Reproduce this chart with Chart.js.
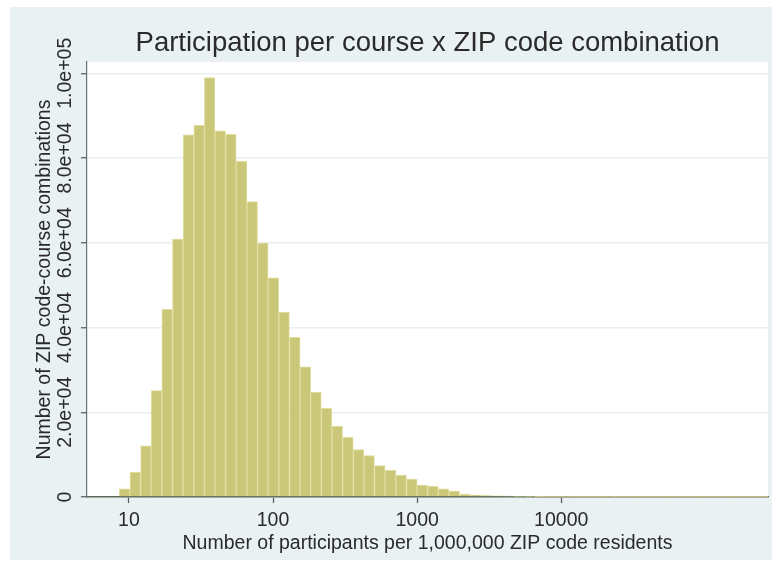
<!DOCTYPE html>
<html>
<head>
<meta charset="utf-8">
<script src="https://cdn.jsdelivr.net/npm/chart.js@4.4.0/dist/chart.umd.min.js"></script>
<style>
  html, body { margin: 0; padding: 0; background: #fff; }
</style>
</head>
<body>
<canvas id="histChart" width="777" height="569"></canvas>
<script>
// bin centres, in log10(participants per 1,000,000 residents)
const binCenters = [
  0.970, 1.044, 1.118, 1.191, 1.265, 1.339, 1.413, 1.487, 1.560, 1.634,
  1.708, 1.782, 1.856, 1.929, 2.003, 2.077, 2.151, 2.225, 2.298, 2.372,
  2.446, 2.520, 2.594, 2.667, 2.741, 2.815, 2.889, 2.963, 3.036, 3.110,
  3.184, 3.258, 3.332, 3.405, 3.479, 3.553, 3.627, 3.701, 3.774, 3.848,
  3.922, 3.996, 4.070, 4.143, 4.217, 4.291, 4.365, 4.439, 4.512, 4.586,
  4.660, 4.734, 4.808, 4.881, 4.955, 5.029, 5.103, 5.177, 5.250, 5.324,
  5.398
];
// number of ZIP code-course combinations per bin
const binCounts = [
  1900, 5800, 12100, 25100, 44300, 60900, 85500, 87700, 99000, 86400,
  85600, 79200, 69700, 59900, 51700, 43600, 37700, 30700, 24700, 20900,
  16700, 14100, 11200, 9800, 7400, 6300, 5200, 4200, 2800, 2500,
  1900, 1400, 700, 450, 350, 300, 220, 160, 120, 90,
  70, 55, 45, 35, 28, 22, 18, 14, 11, 9,
  7, 6, 5, 4, 3, 3, 2, 2, 1, 1,
  1
];
const xTickValues = [1, 2, 3, 4];
const xTickLabels = ['10', '100', '1000', '10000'];
const yTickValues = [0, 20000, 40000, 60000, 80000, 100000];
const yTickLabels = ['0', '2.0e+04', '4.0e+04', '6.0e+04', '8.0e+04', '1.0e+05'];

const chartTitle = 'Participation per course x ZIP code combination';
const FONT = '"Liberation Sans", Arial, Helvetica, sans-serif';
const TEXT = '#2a2a2a';

// background panels, title and the vertical y tick labels
const stataFrame = {
  id: 'stataFrame',
  beforeDraw(chart) {
    const ctx = chart.ctx, a = chart.chartArea;
    ctx.save();
    ctx.fillStyle = '#ffffff';
    ctx.fillRect(0, 0, chart.width, chart.height);
    ctx.fillStyle = '#e9f1f3';
    ctx.fillRect(10, 7, 762, 553);
    ctx.fillStyle = '#ffffff';
    ctx.fillRect(a.left, a.top, a.right - a.left, a.bottom - a.top);
    ctx.restore();
  },
  afterDraw(chart) {
    const ctx = chart.ctx, a = chart.chartArea, y = chart.scales.y;
    ctx.save();
    ctx.fillStyle = TEXT;
    ctx.textAlign = 'center';
    ctx.textBaseline = 'middle';
    ctx.font = '27.5px ' + FONT;
    ctx.fillText(chartTitle, (a.left + a.right) / 2, 43);
    ctx.font = '19.5px ' + FONT;
    y.ticks.forEach((t, i) => {
      ctx.save();
      ctx.translate(66, y.getPixelForValue(t.value));
      ctx.rotate(-Math.PI / 2);
      ctx.fillText(yTickLabels[i], 0, 0);
      ctx.restore();
    });
    ctx.restore();
  }
};

new Chart(document.getElementById('histChart'), {
  type: 'bar',
  data: {
    datasets: [{
      data: binCenters.map((c, i) => ({ x: c, y: binCounts[i] })),
      backgroundColor: 'rgb(203, 199, 120)',
      borderColor: 'rgb(224, 221, 158)',
      borderWidth: 1,
      barPercentage: 1,
      categoryPercentage: 1
    }]
  },
  options: {
    responsive: false,
    devicePixelRatio: 1,
    animation: false,
    layout: { padding: { top: 62, right: 9, left: 0, bottom: 0 } },
    plugins: {
      legend: { display: false },
      tooltip: { enabled: false }
    },
    scales: {
      x: {
        type: 'linear',
        min: 0.709,
        max: 5.435,
        offset: false,
        afterFit: s => { s.height = 72; },
        afterBuildTicks: s => { s.ticks = xTickValues.map(v => ({ value: v })); },
        grid: { offset: false, drawOnChartArea: false, tickLength: 6, tickColor: '#555', tickWidth: 1.2 },
        border: { color: '#5e665a', width: 1.6 },
        ticks: {
          padding: 6,
          color: TEXT,
          font: { family: FONT, size: 19.5 },
          callback: (v, i) => xTickLabels[i]
        },
        title: {
          display: true,
          text: 'Number of participants per 1,000,000 ZIP code residents',
          color: TEXT,
          font: { family: FONT, size: 19.5 },
          padding: { top: 0, bottom: 14 }
        }
      },
      y: {
        min: 0,
        max: 102665,
        afterFit: s => { s.width = 87; },
        afterBuildTicks: s => { s.ticks = yTickValues.map(v => ({ value: v })); },
        grid: { color: '#e8eff0', lineWidth: 1.5, tickLength: 6, tickColor: '#555', tickWidth: 1.2 },
        border: { color: '#6a6f6a', width: 1.2 },
        ticks: { display: false },
        title: {
          display: true,
          text: 'Number of ZIP code-course combinations',
          color: TEXT,
          font: { family: FONT, size: 19.5 },
          padding: { top: 33, bottom: 0 }
        }
      }
    }
  },
  plugins: [stataFrame]
});
</script>
</body>
</html>
